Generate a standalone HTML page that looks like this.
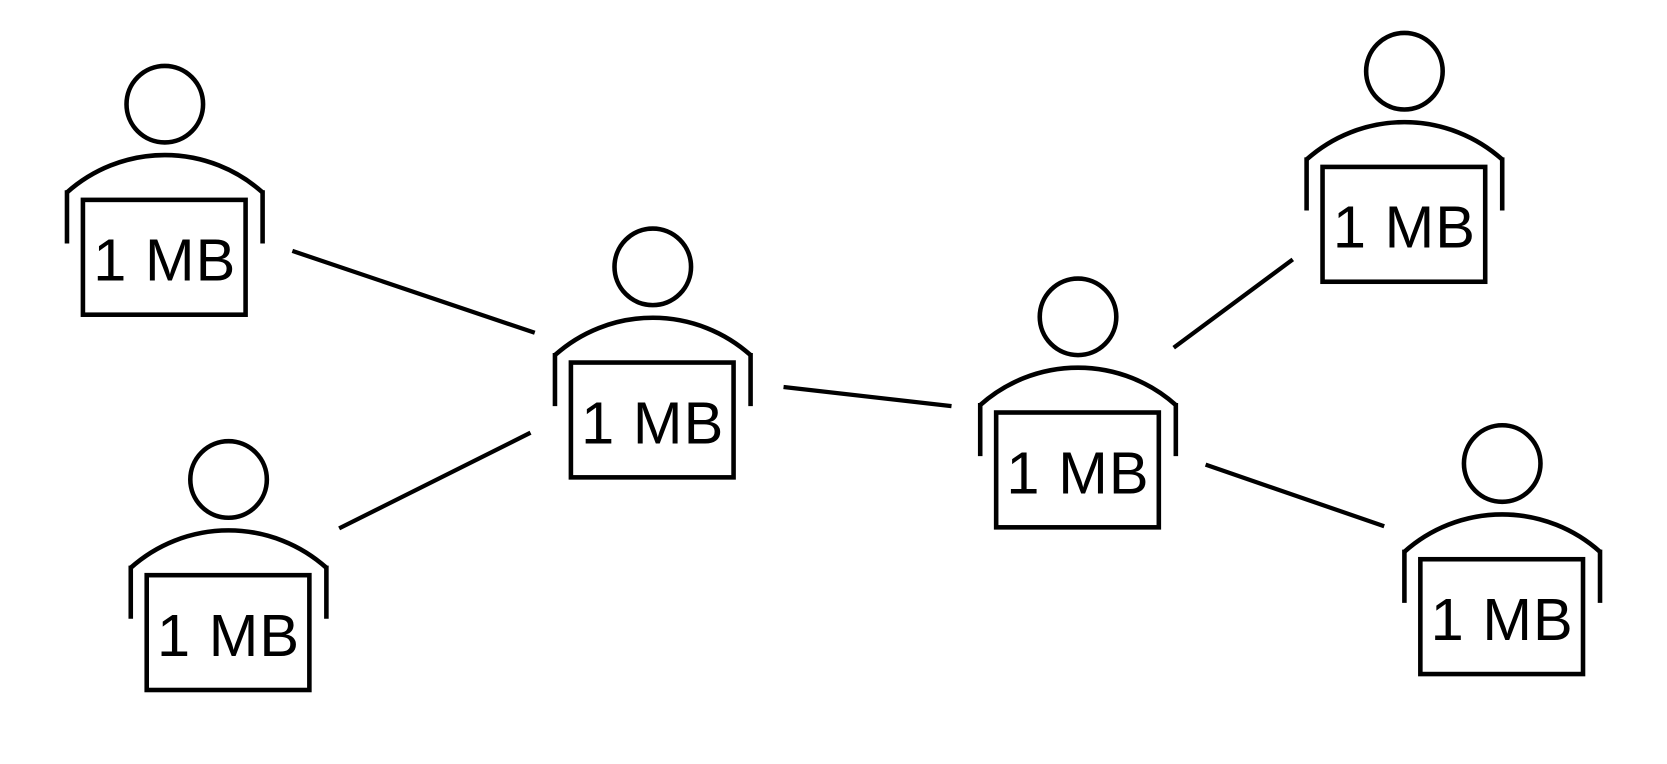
<!DOCTYPE html>
<html><head><meta charset="utf-8"><style>
html,body{margin:0;padding:0;background:#fff;width:1667px;height:764px;overflow:hidden}
svg{display:block}
text{font-family:"Liberation Sans","DejaVu Sans",sans-serif;font-size:56px;fill:#000;letter-spacing:1px}
</style></head><body>
<svg width="1667" height="764" viewBox="0 0 1568 718.6" preserveAspectRatio="none">
<defs>
<g id="p" fill="none" stroke="#000" stroke-width="4.3">
<circle cx="0" cy="0" r="36"/>
<path d="M-92,83 A138,138 0 0 1 92,83"/>
<line x1="-92" y1="81" x2="-92" y2="131"/>
<line x1="92" y1="81" x2="92" y2="131"/>
<rect x="-77" y="90" width="153" height="108"/>
</g>
</defs>
<g stroke="#000" stroke-width="4">
<line x1="275" y1="236" x2="503" y2="313"/>
<line x1="319" y1="497" x2="499" y2="407"/>
<line x1="737" y1="364" x2="895" y2="382"/>
<line x1="1104" y1="327" x2="1216" y2="244"/>
<line x1="1134" y1="437" x2="1302" y2="495"/>
</g>
<use href="#p" x="155" y="98"/><text x="155" y="264" text-anchor="middle">1 MB</text>
<use href="#p" x="215" y="451"/><text x="215" y="617" text-anchor="middle">1 MB</text>
<use href="#p" x="614" y="251"/><text x="614" y="417" text-anchor="middle">1 MB</text>
<use href="#p" x="1014" y="298"/><text x="1014" y="464" text-anchor="middle">1 MB</text>
<use href="#p" x="1321" y="67"/><text x="1321" y="233" text-anchor="middle">1 MB</text>
<use href="#p" x="1413" y="436"/><text x="1413" y="602" text-anchor="middle">1 MB</text>
</svg>
</body></html>
